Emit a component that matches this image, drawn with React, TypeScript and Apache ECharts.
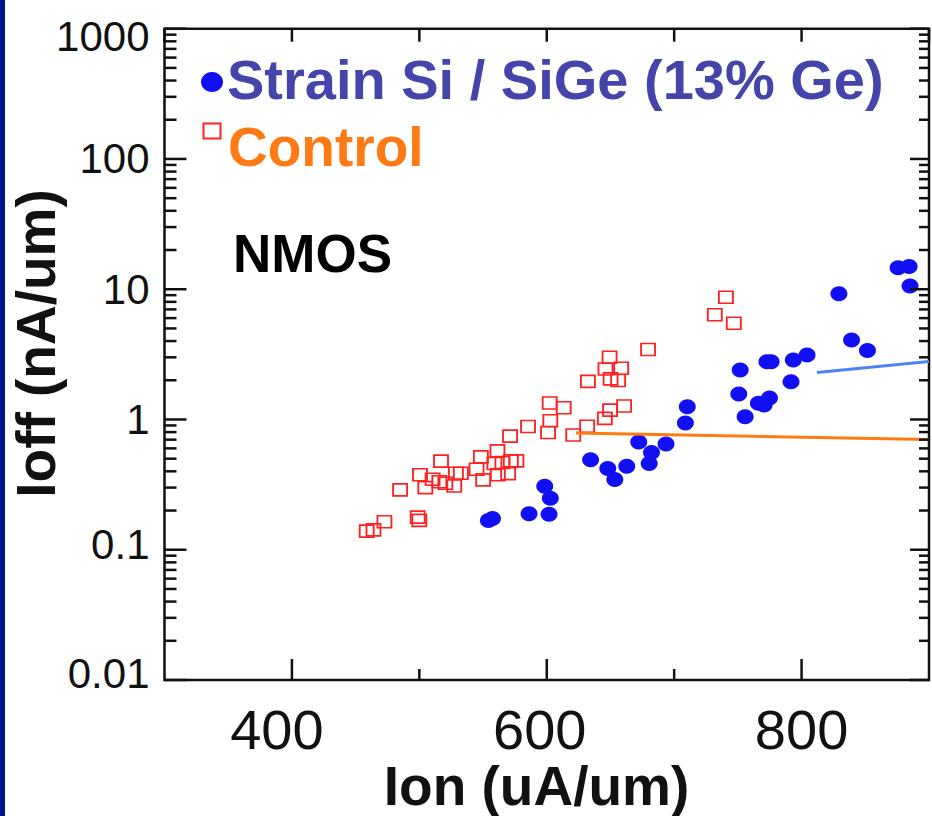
import React, { useEffect, useRef } from "react";
import * as echarts from "echarts";

// ---- data ----
const strainX = [557.4, 554.2, 586.1, 601.8, 598.4, 602.8, 634.4, 647.9, 653.4, 662.8, 672.2, 682.2, 680.4, 693.6, 708.8, 710.3, 751.8, 750.7, 755.7, 766.1, 770.6, 774.8, 776.1, 772.8, 793.5, 804.3, 791.7, 829.3, 839.2, 851.7, 875.7, 884.4, 885.1];
const strainY = [0.174, 0.168, 0.189, 0.187, 0.307, 0.249, 0.49, 0.42, 0.346, 0.438, 0.671, 0.557, 0.459, 0.647, 0.94, 1.25, 2.4, 1.57, 1.05, 1.33, 1.29, 1.46, 2.78, 2.77, 2.86, 3.13, 1.95, 9.22, 4.08, 3.38, 14.6, 14.95, 10.6];

const controlX = [740.6, 731.9, 746.8, 679.5, 649.3, 646.1, 658.4, 650.1, 656.0, 632.3, 602.3, 613.3, 602.8, 601.0, 620.8, 631.7, 645.6, 649.7, 660.7, 585.3, 571.2, 548.3, 561.3, 517.0, 558.9, 565.2, 576.2, 571.8, 544.9, 532.6, 528.7, 500.5, 569.7, 561.6, 550.1, 510.4, 515.7, 520.4, 527.4, 504.7, 484.9, 498.7, 500.0, 472.6, 464.0, 458.7];
const controlY = [8.68, 6.36, 5.48, 3.44, 3.0, 2.44, 2.47, 2.05, 1.99, 1.96, 1.34, 1.23, 0.977, 0.794, 0.759, 0.886, 1.02, 1.18, 1.27, 0.884, 0.745, 0.516, 0.574, 0.479, 0.459, 0.467, 0.481, 0.481, 0.415, 0.387, 0.387, 0.376, 0.384, 0.376, 0.344, 0.348, 0.333, 0.324, 0.309, 0.3, 0.288, 0.178, 0.168, 0.164, 0.142, 0.139];

const controlFitX = [622.9, 900];
const controlFitY = [0.786, 0.702];
const strainFitX = [812, 900];
const strainFitY = [2.29, 2.79];

// ---- axes / ticks ----
const xMin = 300;
const xMax = 900;
const xLabelValues = [400, 600, 800];
const xMinorTickValues = [500, 700];
const xTopTickValues = [300, 400, 500, 600, 700, 800, 900];
const yMin = 0.01;
const yMax = 1000;
const yDecades = [0.01, 0.1, 1, 10, 100, 1000];
const yMinorMultipliers = [2, 3, 4, 5, 6, 7, 8, 9];

const FONT = "'Liberation Sans', Arial, Helvetica, sans-serif";

const zip = (xs: number[], ys: number[]) => xs.map((x, i) => [x, ys[i]]);

export default function App() {
  const ref = useRef<HTMLDivElement>(null);

  useEffect(() => {
    if (!ref.current) return;
    const chart = echarts.init(ref.current, null, { renderer: "svg" });

    // tick spec: [x, y, kind] kind: 0 y-major, 1 y-minor, 2 x-major, 3 x-minor, 4 x-top
    const tickData: number[][] = [];
    yDecades.forEach((d) => tickData.push([xMin, d, 0]));
    yDecades.slice(0, -1).forEach((d) =>
      yMinorMultipliers.forEach((m) => tickData.push([xMin, d * m, 1]))
    );
    xLabelValues.forEach((v) => tickData.push([v, 1, 2]));
    xMinorTickValues.forEach((v) => tickData.push([v, 1, 3]));
    xTopTickValues.forEach((v) => tickData.push([v, 1, 4]));

    const tickStyle = { stroke: "#111", lineWidth: 2.5 };

    const xl = { fontSize: 56, fontFamily: FONT, color: "#111" };
    const yl = { fontSize: 42, fontFamily: FONT, color: "#111" };

    const option: any = {
      animation: false,
      backgroundColor: "#ffffff",
      grid: {
        left: 164.5,
        right: 1,
        top: 28.7,
        bottom: 136,
        show: true,
        borderColor: "#111",
        borderWidth: 2.5,
        backgroundColor: "transparent",
      },
      xAxis: {
        type: "value",
        min: xMin,
        max: xMax,
        interval: 100,
        axisLine: { show: false },
        axisTick: { show: false },
        splitLine: { show: false },
        axisLabel: {
          margin: 21,
          ...xl,
          formatter: (v: number) => {
            const r = Math.round(v);
            if (!xLabelValues.includes(r)) return "";
            return `{x${r}|${r}}`;
          },
          rich: {
            x400: { ...xl, padding: [0, 30, 0, 0] },
            x600: { ...xl, padding: [0, 14, 0, 0] },
            x800: { ...xl },
          },
        },
      },
      yAxis: {
        type: "log",
        logBase: 10,
        min: yMin,
        max: yMax,
        axisLine: { show: false },
        axisTick: { show: false },
        splitLine: { show: false },
        axisLabel: {
          margin: 15,
          ...yl,
          formatter: (v: number) => {
            const s = String(parseFloat(Number(v).toPrecision(6)));
            if (s === "1000") return `{top|${s}}`;
            if (s === "0.1") return `{low1|${s}}`;
            if (s === "0.01") return `{low2|${s}}`;
            return `{n|${s}}`;
          },
          rich: {
            n: { ...yl },
            top: { ...yl, padding: [16, 0, 0, 0] },
            low1: { ...yl, padding: [0, 0, 10, 0] },
            low2: { ...yl, padding: [0, 0, 13, 0] },
          },
        },
      },
      graphic: [
        { type: "rect", shape: { x: 0, y: 0, width: 5, height: 816 }, style: { fill: "#03168f" }, z: 100 },
        // legend
        { type: "ellipse", shape: { cx: 212, cy: 82, rx: 11, ry: 10 }, style: { fill: "#1010f2" }, z: 100 },
        {
          type: "text", x: 227, y: 79, z: 100,
          style: { text: "Strain Si / SiGe (13% Ge)", fill: "#4444aa", font: `bold 56px ${FONT}`, align: "left", verticalAlign: "middle" },
        },
        { type: "rect", shape: { x: 203.5, y: 123.5, width: 17, height: 15 }, style: { fill: "#fff", stroke: "#ff2020", lineWidth: 2 }, z: 100 },
        {
          type: "text", x: 228, y: 147, z: 100,
          style: { text: "Control", fill: "#ff7a12", font: `bold 55px ${FONT}`, align: "left", verticalAlign: "middle" },
        },
        {
          type: "text", x: 233, y: 253, z: 100,
          style: { text: "NMOS", fill: "#000", font: `bold 53px ${FONT}`, align: "left", verticalAlign: "middle" },
        },
        // axis titles
        {
          type: "text", x: 536.5, y: 786, z: 100,
          style: { text: "Ion (uA/um)", fill: "#111", font: `bold 55px ${FONT}`, align: "center", verticalAlign: "middle" },
        },
        {
          type: "text", x: 36, y: 343.5, rotation: Math.PI / 2, z: 100,
          style: { text: "Ioff (nA/um)", fill: "#111", font: `bold 55px ${FONT}`, align: "center", verticalAlign: "middle" },
        },
      ],
      series: [
        {
          name: "Control",
          type: "scatter",
          data: zip(controlX, controlY),
          symbol: "rect",
          symbolSize: [14, 12],
          itemStyle: { color: "rgba(255,255,255,0)", borderColor: "#ff2020", borderWidth: 1.7, opacity: 1 },
          z: 3,
        },
        {
          name: "Strain Si / SiGe (13% Ge)",
          type: "scatter",
          data: zip(strainX, strainY),
          symbol: "circle",
          symbolSize: [17, 15],
          itemStyle: { color: "#1010f2", opacity: 1 },
          z: 4,
        },
        {
          name: "Control fit",
          type: "line",
          data: zip(controlFitX, controlFitY),
          symbol: "none",
          lineStyle: { color: "#ff7a12", width: 3 },
          z: 5,
        },
        {
          name: "Strain fit",
          type: "line",
          data: zip(strainFitX, strainFitY),
          symbol: "none",
          lineStyle: { color: "#4d84ee", width: 3 },
          z: 5,
        },
        {
          name: "ticks",
          type: "custom",
          silent: true,
          z: 6,
          data: tickData,
          encode: { x: 0, y: 1 },
          renderItem: (params: any, api: any) => {
            const cs = params.coordSys;
            const kind = api.value(2);
            const pt = api.coord([api.value(0), api.value(1)]);
            const lines: any[] = [];
            const mk = (x1: number, y1: number, x2: number, y2: number) => ({
              type: "line",
              shape: { x1, y1, x2, y2 },
              style: tickStyle,
            });
            const left = cs.x;
            const right = cs.x + cs.width;
            const top = cs.y;
            const bottom = cs.y + cs.height;
            if (kind === 0 || kind === 1) {
              const lenL = kind === 0 ? 22 : 12;
              const lenR = kind === 0 ? 19 : 10;
              lines.push(mk(left, pt[1], left + lenL, pt[1]));
              lines.push(mk(right, pt[1], right - lenR, pt[1]));
            } else if (kind === 2 || kind === 3) {
              const len = kind === 2 ? 21 : 11;
              lines.push(mk(pt[0], bottom, pt[0], bottom - len));
            } else {
              lines.push(mk(pt[0], top, pt[0], top + 13));
            }
            return { type: "group", children: lines };
          },
        },
      ],
    };

    chart.setOption(option);
    return () => chart.dispose();
  }, []);

  return (
    <div
      ref={ref}
      style={{ position: "fixed", left: 0, top: 0, width: 932, height: 816, background: "#fff" }}
    />
  );
}
